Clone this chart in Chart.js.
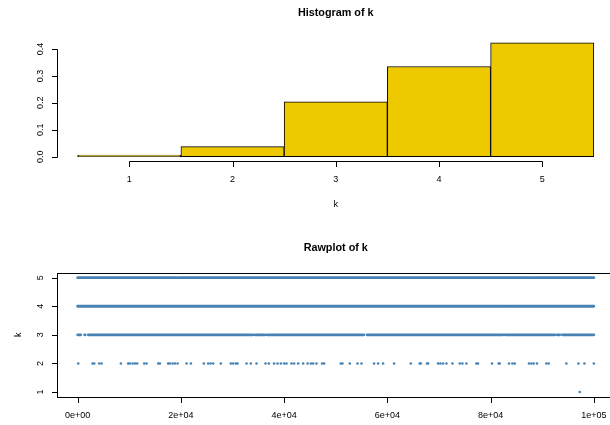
<!DOCTYPE html>
<html>
<head>
<meta charset="utf-8">
<script src="https://cdn.jsdelivr.net/npm/chart.js@4/dist/chart.umd.min.js"></script>
<style>
  html, body { margin: 0; padding: 0; background: #fff; width: 610px; height: 425px; overflow: hidden; }
  .panel { position: absolute; left: 0; }
  #histPanel { top: 0; }
  #rawPanel { top: 212px; }
</style>
</head>
<body>
<div class="panel" id="histPanel"><canvas id="hist" width="630" height="212"></canvas></div>
<div class="panel" id="rawPanel"><canvas id="raw" width="630" height="213"></canvas></div>
<script>
// ---- histogram of k (density per unit-width bin) ----
const histBins = [1, 2, 3, 4, 5];
const histDensity = [0.00001, 0.037, 0.204, 0.335, 0.423];
const histXTicks = [1, 2, 3, 4, 5];
const histXTickLabels = ['1', '2', '3', '4', '5'];
const histYTicks = [0, 0.1, 0.2, 0.3, 0.4];
const histYTickLabels = ['0.0', '0.1', '0.2', '0.3', '0.4'];

// ---- raw plot of k against its index ----
// index ranges where the value appears densely
const level5Runs = [[1, 19100], [19500, 88200], [88500, 100000]];
const level4Runs = [[1, 14200], [14500, 44250], [44450, 83550], [83850, 94550], [94800, 100000]];
const level3Runs = [[1, 600], [1350, 1450], [2050, 20400], [20600, 33950], [34350, 36300],
                    [36700, 55450], [56050, 82400], [82800, 92400], [92850, 93400], [93900, 100000]];
// isolated indices with k = 2 and k = 1
const level2Index = [120, 2900, 3220, 4180, 4640, 8380, 9800, 10120, 10640, 11090, 11540, 12900, 13350,
  15610, 15930, 17540, 17870, 18390, 18840, 19360, 21100, 21930, 24450, 25290, 25740, 26260, 27740,
  29680, 30130, 30650, 30970, 32720, 33550, 34650, 36400, 37040, 38060, 38720, 39360, 40000, 40460,
  41430, 41940, 42720, 43690, 44540, 45180, 45620, 46270, 47360, 47750, 50980, 51300, 52720, 54210,
  54990, 57430, 58200, 59170, 61300, 64530, 66270, 66470, 67690, 67880, 69820, 70280, 70790, 71440,
  72600, 74020, 74540, 75310, 77250, 77560, 80270, 81570, 81760, 83560, 84220, 84670, 87430, 87900,
  88350, 88990, 90800, 91250, 94680, 97010, 98170, 100000];
const level1Index = [97260];
const rawXTicks = [0, 20000, 40000, 60000, 80000, 100000];
const rawXTickLabels = ['0e+00', '2e+04', '4e+04', '6e+04', '8e+04', '1e+05'];
const rawYTicks = [1, 2, 3, 4, 5];
const rawYTickLabels = ['1', '2', '3', '4', '5'];

const STEEL = '#4682B4';
const GOLD = '#EEC900';
const TICK_FONT = '9px "Liberation Sans", Arial, sans-serif';
const TITLE_FONT = 'bold 10.8px "Liberation Sans", Arial, sans-serif';

// R-style range padding of 4% on each side
function padRange(lo, hi) {
  const d = (hi - lo) * 0.04;
  return [lo - d, hi + d];
}

// base-graphics style axes, titles and box
const rAxes = {
  id: 'rAxes',
  afterDraw(chart, args, o) {
    const { ctx, chartArea: a } = chart;
    const xs = chart.scales.x, ys = chart.scales.y;
    ctx.save();
    ctx.strokeStyle = '#000';
    ctx.fillStyle = '#000';
    ctx.lineWidth = 1;

    const bottom = Math.round(a.bottom) + 0.5;
    const left = Math.round(a.left) + 0.5;
    const tick = 5.5;

    // x axis
    const xp = o.xTicks.map(v => xs.getPixelForValue(v));
    ctx.beginPath();
    if (!o.box) {
      ctx.moveTo(Math.round(xp[0]) + 0.5, bottom);
      ctx.lineTo(Math.round(xp[xp.length - 1]) + 0.5, bottom);
    }
    xp.forEach(p => {
      ctx.moveTo(Math.round(p) + 0.5, bottom);
      ctx.lineTo(Math.round(p) + 0.5, bottom + tick);
    });
    ctx.stroke();
    ctx.font = TICK_FONT;
    ctx.textAlign = 'center';
    ctx.textBaseline = 'middle';
    xp.forEach((p, i) => ctx.fillText(o.xLabels[i], p, a.bottom + 18.6));

    // y axis
    const yp = o.yTicks.map(v => ys.getPixelForValue(v));
    ctx.beginPath();
    if (!o.box) {
      ctx.moveTo(left, Math.round(yp[0]) + 0.5);
      ctx.lineTo(left, Math.round(yp[yp.length - 1]) + 0.5);
    }
    yp.forEach(p => {
      ctx.moveTo(left, Math.round(p) + 0.5);
      ctx.lineTo(left - tick, Math.round(p) + 0.5);
    });
    ctx.stroke();
    yp.forEach((p, i) => {
      ctx.save();
      ctx.translate(a.left - 16, p);
      ctx.rotate(-Math.PI / 2);
      ctx.fillText(o.yLabels[i], 0, 0);
      ctx.restore();
    });

    // frame around the plotting region
    if (o.box) {
      ctx.strokeRect(left, Math.round(a.top) + 0.5, Math.round(a.right) - Math.round(a.left), Math.round(a.bottom) - Math.round(a.top));
    }

    // main title and axis labels
    const cx = (a.left + a.right) / 2;
    ctx.font = TITLE_FONT;
    ctx.fillText(o.title, cx, a.top - 25);
    ctx.font = TICK_FONT;
    if (o.xlab) ctx.fillText(o.xlab, cx, a.bottom + 43);
    if (o.ylab) {
      ctx.save();
      ctx.translate(a.left - 38.7, (a.top + a.bottom) / 2);
      ctx.rotate(-Math.PI / 2);
      ctx.fillText(o.ylab, 0, 0);
      ctx.restore();
    }
    ctx.restore();
  }
};

Chart.defaults.animation = false;
Chart.defaults.devicePixelRatio = 1;

// histogram
const histX = padRange(0.5, 5.5);
const histY = padRange(0, Math.max(...histDensity));
new Chart(document.getElementById('hist'), {
  type: 'bar',
  data: {
    datasets: [{
      data: histBins.map((b, i) => ({ x: b, y: histDensity[i] })),
      backgroundColor: GOLD,
      borderColor: '#000',
      borderWidth: 1,
      borderSkipped: false,
      minBarLength: 1.5,
      barPercentage: 1,
      categoryPercentage: 1
    }]
  },
  options: {
    responsive: false,
    layout: { padding: { left: 57, right: 15.5, top: 38.3, bottom: 50.8 } },
    scales: {
      x: {
        type: 'linear', min: histX[0], max: histX[1], display: false, offset: false,
        ticks: { stepSize: 1, includeBounds: false }
      },
      y: { type: 'linear', min: histY[0], max: histY[1], display: false }
    },
    plugins: {
      legend: { display: false },
      tooltip: { enabled: false },
      rAxes: {
        title: 'Histogram of k', xlab: 'k', ylab: '',
        xTicks: histXTicks, xLabels: histXTickLabels,
        yTicks: histYTicks, yLabels: histYTickLabels, box: false
      }
    }
  },
  plugins: [rAxes]
});

// raw plot
function runsToLine(runs, level) {
  const pts = [];
  runs.forEach(([s, e], i) => {
    pts.push({ x: s, y: level }, { x: e, y: level });
    if (i < runs.length - 1) pts.push({ x: (e + runs[i + 1][0]) / 2, y: null });
  });
  return pts;
}
function runLine(runs, level) {
  return {
    type: 'line',
    data: runsToLine(runs, level),
    borderColor: STEEL,
    borderWidth: 2.8,
    borderCapStyle: 'round',
    pointRadius: 0,
    spanGaps: false,
    tension: 0
  };
}
function dots(idx, level) {
  return {
    type: 'scatter',
    data: idx.map(i => ({ x: i, y: level })),
    backgroundColor: STEEL,
    borderWidth: 0,
    pointRadius: 1.3
  };
}
const rawX = padRange(1, 100000);
const rawY = padRange(1, 5);
new Chart(document.getElementById('raw'), {
  type: 'scatter',
  data: {
    datasets: [
      runLine(level5Runs, 5),
      runLine(level4Runs, 4),
      runLine(level3Runs, 3),
      dots(level2Index, 2),
      dots(level1Index, 1)
    ]
  },
  options: {
    responsive: false,
    layout: { padding: { left: 57, right: 15.5, top: 61.1, bottom: 28.4 } },
    scales: {
      x: { type: 'linear', min: rawX[0], max: rawX[1], display: false },
      y: { type: 'linear', min: rawY[0], max: rawY[1], display: false }
    },
    plugins: {
      legend: { display: false },
      tooltip: { enabled: false },
      rAxes: {
        title: 'Rawplot of k', xlab: '', ylab: 'k',
        xTicks: rawXTicks, xLabels: rawXTickLabels,
        yTicks: rawYTicks, yLabels: rawYTickLabels, box: true
      }
    }
  },
  plugins: [rAxes]
});
</script>
</body>
</html>
